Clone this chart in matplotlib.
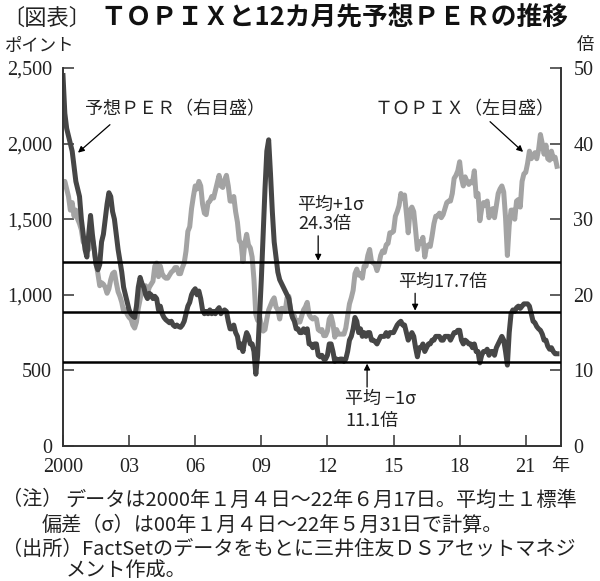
import numpy as np
import pandas as pd
import matplotlib
matplotlib.use('Agg')
import matplotlib.pyplot as plt

JP = ['Noto Sans CJK JP', 'DejaVu Sans']
SERIF = 'Liberation Serif'

# monthly values, Jan 2000 - Jun 2022
topix = [
    1720, 1750, 1700, 1650, 1560, 1610, 1520, 1560, 1500, 1470, 1430, 1350,  # 2000
    1330, 1290, 1300, 1380, 1370, 1300, 1210, 1140, 1060, 1080, 1070, 1050,  # 2001
    1010, 1040, 1100, 1140, 1150, 1080, 1020, 990, 950, 890, 900, 870,       # 2002
    850, 840, 800, 780, 820, 910, 970, 1040, 1040, 1060, 1010, 1050,         # 2003
    1070, 1090, 1190, 1210, 1120, 1190, 1140, 1120, 1110, 1110, 1130, 1150,  # 2004
    1160, 1180, 1180, 1140, 1140, 1180, 1210, 1290, 1420, 1450, 1570, 1650,  # 2005
    1720, 1700, 1750, 1720, 1600, 1540, 1530, 1610, 1620, 1650, 1640, 1690,  # 2006
    1740, 1790, 1720, 1710, 1760, 1790, 1720, 1620, 1620, 1650, 1550, 1480,  # 2007
    1360, 1340, 1220, 1340, 1400, 1330, 1310, 1250, 1100, 870, 830, 860,     # 2008
    800, 760, 770, 840, 900, 930, 960, 980, 920, 900, 840, 910,              # 2009
    910, 890, 980, 990, 890, 850, 860, 810, 830, 820, 860, 900,              # 2010
    920, 950, 870, 850, 840, 850, 840, 770, 760, 770, 730, 730,              # 2011
    760, 840, 860, 810, 720, 770, 740, 740, 740, 740, 780, 860,              # 2012
    940, 980, 1030, 1140, 1170, 1130, 1140, 1110, 1190, 1190, 1260, 1300,    # 2013
    1220, 1210, 1200, 1160, 1200, 1260, 1290, 1280, 1330, 1340, 1410, 1410,  # 2014
    1420, 1520, 1550, 1590, 1670, 1640, 1660, 1540, 1410, 1560, 1580, 1550,  # 2015
    1430, 1300, 1350, 1340, 1380, 1250, 1320, 1330, 1320, 1390, 1470, 1520,  # 2016
    1520, 1540, 1510, 1530, 1570, 1610, 1620, 1620, 1670, 1770, 1790, 1820,  # 2017
    1880, 1770, 1720, 1780, 1750, 1730, 1750, 1740, 1820, 1650, 1670, 1490,  # 2018
    1570, 1610, 1590, 1620, 1510, 1550, 1570, 1510, 1590, 1670, 1700, 1720,  # 2019
    1680, 1510, 1260, 1460, 1560, 1560, 1500, 1620, 1630, 1580, 1750, 1800,  # 2020
    1810, 1870, 1950, 1900, 1920, 1940, 1900, 1960, 2060, 2000, 1930, 1990,  # 2021
    1900, 1890, 1950, 1900, 1910, 1850,                                      # 2022
]
per = [
    49, 44, 42, 41, 40, 39, 37, 35, 34, 33, 30, 28,                          # 2000
    26, 25, 28, 30.5, 28, 26, 24, 23.3, 24, 27, 28, 30,                      # 2001
    32, 33.5, 33, 31, 30, 28, 26, 24.5, 23, 21, 20, 19,                      # 2002
    18, 17.5, 17.2, 17, 18.5, 21, 22.3, 21.5, 21, 20, 19.5, 20.2,            # 2003
    20, 19.5, 19.8, 19.5, 18, 18.5, 17.5, 17, 16.7, 16.5, 16.3, 16.5,        # 2004
    16, 15.8, 16, 15.8, 15.7, 16, 16.5, 17.5, 18.5, 19, 20, 20.5,            # 2005
    20.8, 20, 20.5, 19.5, 18, 17.5, 17.8, 17.5, 18, 17.5, 17.8, 17.5,        # 2006
    18, 18.3, 17.5, 17.8, 18, 17.8, 16.5, 15.5, 15.5, 16, 15, 14.5,          # 2007
    13, 13.5, 12.5, 14, 15, 14.5, 13.5, 13.5, 12.5, 9.5, 12, 17,             # 2008
    22, 28, 34, 39, 40.5, 36, 31, 27, 25, 23, 22, 21.5,                      # 2009
    21, 20.5, 20, 19.5, 18, 17, 16.5, 15.5, 15.5, 15, 15, 15.5,              # 2010
    15, 15.5, 13.5, 13.5, 13, 13.5, 13.5, 12, 11.8, 12, 11.5, 11.5,          # 2011
    12, 13.5, 13.5, 12.5, 11.2, 11.5, 11.3, 11.5, 11.5, 11.2, 11.5, 12.5,    # 2012
    14, 14.5, 15.5, 17, 16.5, 15, 15.5, 14.5, 15, 14.5, 15, 15,              # 2013
    14, 14, 13.8, 13.5, 14, 14.5, 14.5, 14.5, 15, 14.5, 15, 15,              # 2014
    15, 15.5, 16, 16.3, 16.5, 16, 16, 15, 14, 14.5, 15, 14.5,                # 2015
    13, 11.8, 13, 13, 13.5, 12.5, 13, 13.5, 13.5, 14, 14, 14.5,              # 2016
    14.5, 14.5, 14, 14, 14.5, 14.5, 14.5, 14, 14.5, 15, 15, 15.3,            # 2017
    15.3, 14, 13.5, 14, 13.8, 13.5, 13.5, 13, 13.5, 12.5, 12.5, 11,          # 2018
    12, 12.5, 12.5, 12.8, 12, 12.5, 12.5, 12, 13, 13.5, 14, 14.5,            # 2019
    14, 12.5, 10.7, 15, 17.5, 18, 17.8, 18.3, 18.5, 18.2, 18.5, 18.8,        # 2020
    18.8, 18.8, 18.5, 17.5, 16.5, 16.3, 15.8, 15.5, 15.3, 14.8, 14, 14,      # 2021
    13.2, 12.8, 13, 12.5, 12.2, 12.2,                                        # 2022
]
per_plus_1sd = 24.3
per_mean = 17.7
per_minus_1sd = 11.1

year_ticks = [2000, 2003, 2006, 2009, 2012, 2015, 2018, 2021]
year_labels = ['2000', '03', '06', '09', '12', '15', '18', '21']
topix_ticks = [0, 500, 1000, 1500, 2000, 2500]
topix_labels = ['0', '500', '1,000', '1,500', '2,000', '2,500']
per_ticks = [0, 10, 20, 30, 40, 50]

months = pd.date_range('2000-01-01', periods=len(topix), freq='MS')
x = months.year + (months.month - 1) / 12

W, H = 600, 581
fig = plt.figure(figsize=(W / 100, H / 100), dpi=100)


def fx(px):
    return px / W


def fy(py):
    return 1 - py / H


ax = fig.add_axes([fx(63), fy(446), fx(561) - fx(63), fy(68) - fy(446)])
ax2 = ax.twinx()

ax.plot(x, topix, color='#a3a3a3', lw=3.6, solid_joinstyle='round')
ax2.plot(x, per, color='#464646', lw=3.6, solid_joinstyle='round')
for v in (per_plus_1sd, per_mean, per_minus_1sd):
    ax2.axhline(v, color='black', lw=1.8, zorder=5)

ax.set_xlim(2000, 2022.6)
ax.set_ylim(0, 2500)
ax2.set_ylim(0, 50)

ax.set_xticks(year_ticks)
ax.set_xticklabels(year_labels, fontfamily=SERIF, fontsize=14.5)
ax.set_yticks(topix_ticks)
ax.set_yticklabels(topix_labels, fontfamily=SERIF, fontsize=14.5)
ax2.set_yticks(per_ticks)
ax2.set_yticklabels([str(t) for t in per_ticks], fontfamily=SERIF, fontsize=14.5)

for a in (ax, ax2):
    a.spines['top'].set_visible(False)
    for s in a.spines.values():
        s.set_color('#333333')
        s.set_linewidth(1.2)
    a.tick_params(direction='in', length=8, width=1.1, color='#333333', labelcolor='#222222')
ax.tick_params(axis='y', pad=8)
ax.tick_params(axis='x', pad=9)
ax2.tick_params(axis='y', pad=9)

arrow = dict(arrowstyle='-|>', color='black', lw=0.9, mutation_scale=9, shrinkA=0, shrinkB=0)
kw = dict(fontfamily=JP, fontsize=13, color='#222222', va='center', ha='left')
ax2.text(2001.0, 44.6, '予想ＰＥＲ（右目盛）', **kw)
ax2.annotate('', xy=(2000.68, 38.8), xytext=(2002.13, 42.5), arrowprops=arrow)
ax2.text(2014.16, 44.6, 'ＴＯＰＩＸ（左目盛）', **kw)
ax2.annotate('', xy=(2020.88, 38.9), xytext=(2019.38, 42.9), arrowprops=arrow)

ax2.text(2010.62, 31.9, '平均+1σ', **kw)
ax2.text(2010.67, 29.4, '24.3倍', **kw)
ax2.annotate('', xy=(2011.58, per_plus_1sd + 0.2), xytext=(2011.58, 27.8), arrowprops=arrow)

ax2.text(2015.2, 21.7, '平均17.7倍', **kw)
ax2.annotate('', xy=(2015.98, per_mean + 0.2), xytext=(2015.98, 20.2), arrowprops=arrow)

ax2.text(2012.8, 6.2, '平均 −1σ', **kw)
ax2.text(2012.8, 3.3, '11.1倍', **kw)
ax2.annotate('', xy=(2013.8, per_minus_1sd - 0.2), xytext=(2013.8, 7.8), arrowprops=arrow)

# header
fig.text(fx(2), fy(18), '〔図表〕', fontfamily=JP, fontsize=16, va='center', ha='left', color='#222222')
fig.text(fx(100), fy(17), 'ＴＯＰＩＸと12カ月先予想ＰＥＲの推移', fontfamily=JP, fontsize=18.5,
         fontweight='bold', va='center', ha='left', color='#111111')
fig.text(fx(5), fy(46), 'ポイント', fontfamily=JP, fontsize=12.5, va='center', ha='left', color='#222222')
fig.text(fx(594), fy(45), '倍', fontfamily=JP, fontsize=12.5, va='center', ha='right', color='#222222')
fig.text(fx(560), fy(466), '年', fontfamily=JP, fontsize=13, va='center', ha='center', color='#222222')

# notes
nk = dict(fontfamily=JP, fontsize=14.5, va='center', ha='left', color='#222222')
fig.text(fx(2), fy(500), '（注）', **nk)
fig.text(fx(65), fy(500), 'データは2000年１月４日～22年６月17日。平均±１標準', **nk)
fig.text(fx(42), fy(525), '偏差（σ）は00年１月４日～22年５月31日で計算。', **nk)
fig.text(fx(2), fy(549), '（出所）', **nk)
fig.text(fx(82), fy(549), 'FactSetのデータをもとに三井住友ＤＳアセットマネジ', **nk)
fig.text(fx(66), fy(571), 'メント作成。', **nk)

fig.savefig('out.png', dpi=100)
